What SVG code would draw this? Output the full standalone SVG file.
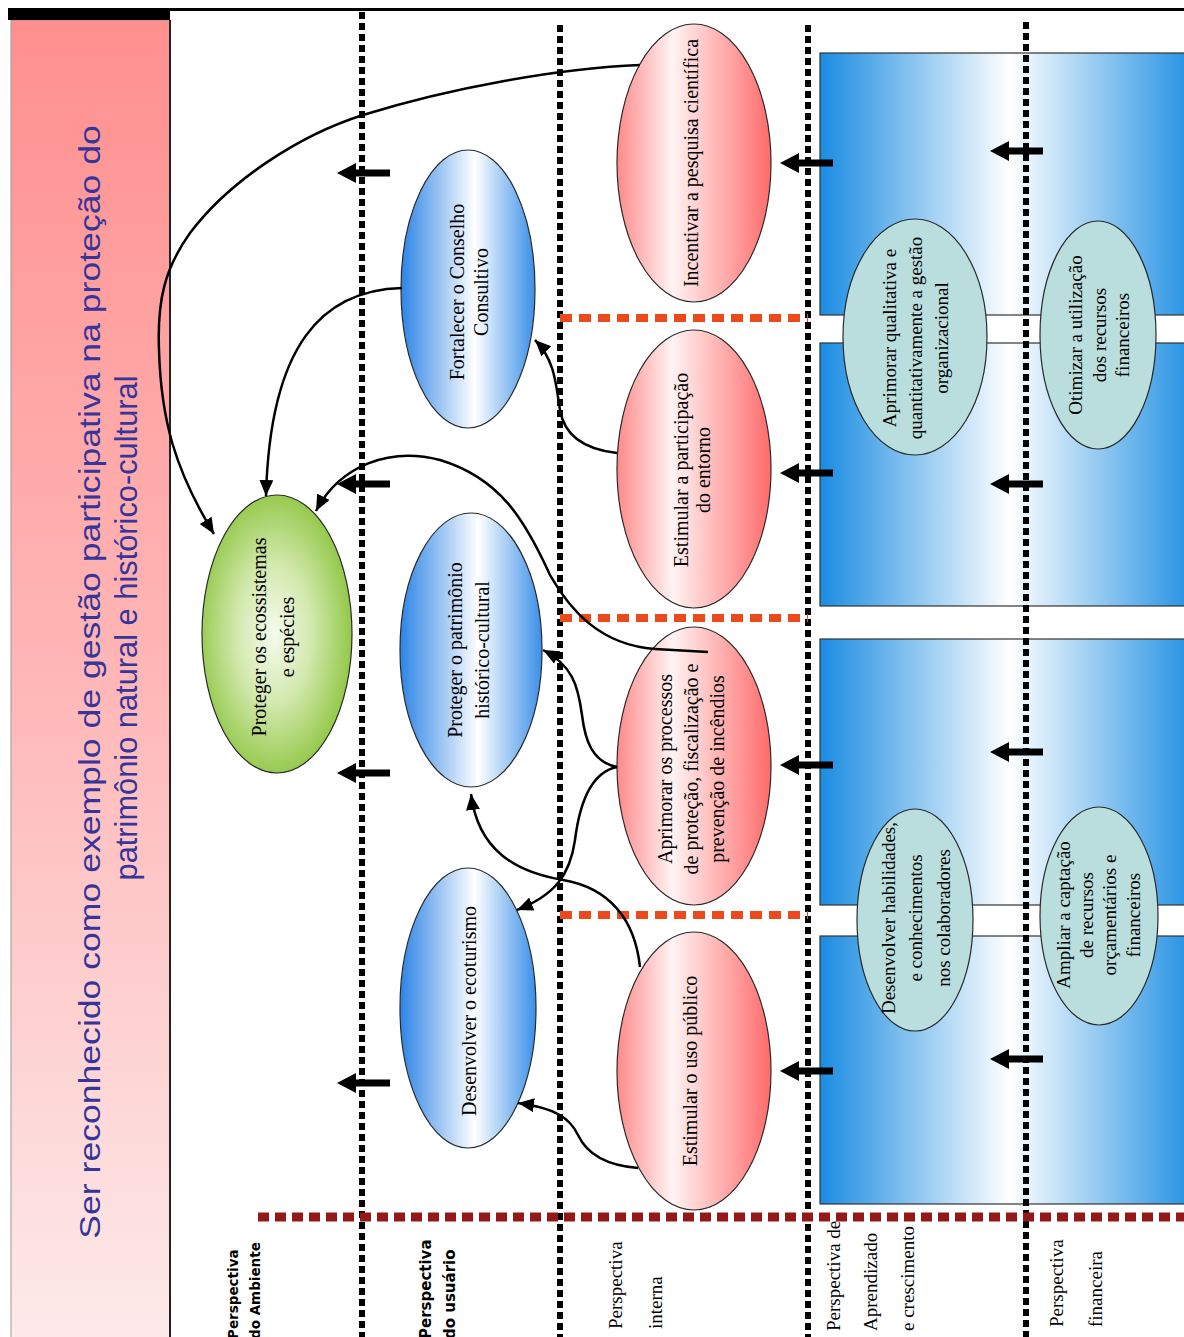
<svg xmlns="http://www.w3.org/2000/svg" width="1184" height="1337" viewBox="0 0 1184 1337">
<defs>
<linearGradient id="gPanel" x1="0" y1="0" x2="0" y2="1">
<stop offset="0" stop-color="#FF8F8F"/><stop offset="0.5" stop-color="#FFB7B7"/><stop offset="1" stop-color="#FDEAEA"/>
</linearGradient>
<linearGradient id="gPink" x1="0" y1="0" x2="1" y2="0">
<stop offset="0" stop-color="#FF8A8A"/><stop offset="0.36" stop-color="#FFF3F3"/><stop offset="1" stop-color="#FF6B6B"/>
</linearGradient>
<linearGradient id="gBlue" x1="0" y1="0" x2="1" y2="0">
<stop offset="0" stop-color="#2C84E6"/><stop offset="0.55" stop-color="#FFFFFF"/><stop offset="1" stop-color="#3A8FE8"/>
</linearGradient>
<radialGradient id="gGreen" cx="0.48" cy="0.5" r="0.55">
<stop offset="0" stop-color="#F6FBEE"/><stop offset="0.45" stop-color="#D3E9AE"/><stop offset="1" stop-color="#8CC43E"/>
</radialGradient>
<linearGradient id="gBox" x1="0" y1="0" x2="1" y2="0">
<stop offset="0" stop-color="#1A8CE2"/><stop offset="0.5" stop-color="#FFFFFF"/><stop offset="1" stop-color="#1A8CE2"/>
</linearGradient>
<marker id="ah" markerUnits="userSpaceOnUse" markerWidth="18" markerHeight="16" refX="16" refY="7" orient="auto">
<path d="M0,0 L16,7 L0,14 z" fill="#000"/>
</marker>
<path id="barrow" d="M0,0 L19,-10 L19,-3.5 L53,-3.5 L53,3.5 L19,3.5 L19,10 Z" fill="#000"/>
</defs>
<style>
.ell{stroke:#2a2a2a;stroke-width:1.2}
.teal{fill:#B9DEDD;stroke:#2a2a2a;stroke-width:1.2}
.box{fill:url(#gBox);stroke:#333;stroke-width:1.2}
.t{font-family:"Liberation Serif","Times New Roman",serif;font-size:20px;fill:#000;text-anchor:middle}
.tt{font-family:"Liberation Serif","Times New Roman",serif;font-size:19px;fill:#000;text-anchor:middle}
.div{stroke:#000;stroke-width:6;stroke-dasharray:7 4;fill:none}
.red{stroke:#EC4A1C;stroke-width:8;stroke-dasharray:12 7;fill:none}
.dred{stroke:#951818;stroke-width:9;stroke-dasharray:11 6;fill:none}
.con{stroke:#000;stroke-width:2.5;fill:none;marker-end:url(#ah)}
.lbs{font-family:"DejaVu Sans",Verdana,sans-serif;font-weight:bold;fill:#000}
.lbr{font-family:"Liberation Serif","Times New Roman",serif;font-size:19px;fill:#000}
</style>
<rect x="0" y="0" width="1184" height="1337" fill="#fff"/>

<g id="title-panel">
<rect x="11" y="20" width="159" height="1320" fill="url(#gPanel)" stroke="#999" stroke-width="1"/>
<line x1="170" y1="20" x2="170" y2="1337" stroke="#222" stroke-width="2"/>
<rect x="8" y="8" width="162" height="12" fill="#000"/>
<line x1="8" y1="9.5" x2="1184" y2="9.5" stroke="#000" stroke-width="3"/>
<g font-family="'Liberation Sans',Arial,sans-serif" fill="#35359A" text-anchor="middle">
<text font-size="35.6" transform="translate(100,682) rotate(-90) scale(1,0.85)">Ser reconhecido como exemplo de gestão participativa na proteção do</text>
<text font-size="30.5" transform="translate(137,628) rotate(-90)" textLength="505" lengthAdjust="spacingAndGlyphs">patrimônio natural e histórico-cultural</text>
</g>
</g>

<g id="boxes">
<rect class="box" x="820" y="53" width="380" height="262"/>
<rect class="box" x="820" y="343" width="380" height="263"/>
<rect class="box" x="820" y="639" width="380" height="266"/>
<rect class="box" x="820" y="936" width="380" height="268"/>
</g>

<g id="dividers">
<line class="div" x1="362" y1="12" x2="362" y2="1337"/>
<line class="div" x1="560" y1="25" x2="560" y2="1337"/>
<line class="div" x1="808" y1="25" x2="808" y2="1337"/>
<line class="div" x1="1026" y1="22" x2="1026" y2="1337"/>
<line class="red" x1="560" y1="318" x2="808" y2="318"/>
<line class="red" x1="560" y1="618" x2="808" y2="618"/>
<line class="red" x1="560" y1="915" x2="808" y2="915"/>
<line class="dred" x1="258" y1="1217" x2="1184" y2="1217"/>
</g>

<g id="labels">
<g class="lbs" font-size="13.5">
<text transform="translate(238,1339) rotate(-90)">Perspectiva</text>
<text transform="translate(260,1339) rotate(-90)">do Ambiente</text>
</g>
<g class="lbs" font-size="15">
<text transform="translate(431,1339) rotate(-90)">Perspectiva</text>
<text transform="translate(455,1339) rotate(-90)">do usuário</text>
</g>
<g class="lbr">
<text transform="translate(622,1329) rotate(-90)">Perspectiva</text>
<text transform="translate(662,1329) rotate(-90)">interna</text>
<text transform="translate(840,1331) rotate(-90)">Perspectiva de</text>
<text transform="translate(877,1331) rotate(-90)">Aprendizado</text>
<text transform="translate(914,1331) rotate(-90)">e crescimento</text>
<text transform="translate(1063,1327) rotate(-90)">Perspectiva</text>
<text transform="translate(1102,1327) rotate(-90)">financeira</text>
</g>
</g>

<g id="n-ecossistemas">
<ellipse class="ell" cx="277" cy="634" rx="75" ry="139" fill="url(#gGreen)"/>
<text class="t" transform="translate(266,637) rotate(-90)">Proteger os ecossistemas</text>
<text class="t" transform="translate(294,637) rotate(-90)">e espécies</text>
</g>
<g id="n-conselho">
<ellipse class="ell" cx="468" cy="289" rx="67" ry="139" fill="url(#gBlue)"/>
<text class="t" transform="translate(464,292) rotate(-90)">Fortalecer o Conselho</text>
<text class="t" transform="translate(488,292) rotate(-90)">Consultivo</text>
</g>
<g id="n-patrimonio">
<ellipse class="ell" cx="471" cy="650" rx="71" ry="137" fill="url(#gBlue)"/>
<text class="t" transform="translate(462,650) rotate(-90)">Proteger o patrimônio</text>
<text class="t" transform="translate(489,650) rotate(-90)">histórico-cultural</text>
</g>
<g id="n-ecoturismo">
<ellipse class="ell" cx="468" cy="1008" rx="68" ry="140" fill="url(#gBlue)"/>
<text class="t" transform="translate(476,1011) rotate(-90)">Desenvolver o ecoturismo</text>
</g>
<g id="n-pesquisa">
<ellipse class="ell" cx="694" cy="163" rx="77" ry="139" fill="url(#gPink)"/>
<text class="t" transform="translate(698,163) rotate(-90)">Incentivar a pesquisa científica</text>
</g>
<g id="n-entorno">
<ellipse class="ell" cx="694" cy="469" rx="77" ry="139" fill="url(#gPink)"/>
<text class="t" transform="translate(688,470) rotate(-90)">Estimular a participação</text>
<text class="t" transform="translate(710,470) rotate(-90)">do entorno</text>
</g>
<g id="n-processos">
<ellipse class="ell" cx="694" cy="766" rx="77" ry="139" fill="url(#gPink)"/>
<text class="t" transform="translate(672,769) rotate(-90)">Aprimorar os processos</text>
<text class="t" transform="translate(698,769) rotate(-90)">de proteção, fiscalização e</text>
<text class="t" transform="translate(724,769) rotate(-90)">prevenção de incêndios</text>
</g>
<g id="n-usopublico">
<ellipse class="ell" cx="694" cy="1071" rx="77" ry="139" fill="url(#gPink)"/>
<text class="t" transform="translate(697,1071) rotate(-90)">Estimular o uso público</text>
</g>
<g id="n-gestao">
<ellipse class="teal" cx="915" cy="337" rx="72" ry="118"/>
<text class="tt" transform="translate(896,338) rotate(-90)">Aprimorar qualitativa e</text>
<text class="tt" transform="translate(922,338) rotate(-90)">quantitativamente a gestão</text>
<text class="tt" transform="translate(948,338) rotate(-90)">organizacional</text>
</g>
<g id="n-otimizar">
<ellipse class="teal" cx="1098" cy="335" rx="58" ry="114"/>
<text class="tt" transform="translate(1082,335) rotate(-90)">Otimizar a utilização</text>
<text class="tt" transform="translate(1106,335) rotate(-90)">dos recursos</text>
<text class="tt" transform="translate(1129,335) rotate(-90)">financeiros</text>
</g>
<g id="n-habilidades">
<ellipse class="teal" cx="915" cy="920" rx="58" ry="111"/>
<text class="tt" transform="translate(895,918) rotate(-90)">Desenvolver habilidades,</text>
<text class="tt" transform="translate(922,918) rotate(-90)">e conhecimentos</text>
<text class="tt" transform="translate(950,918) rotate(-90)">nos colaboradores</text>
</g>
<g id="n-captacao">
<ellipse class="teal" cx="1099" cy="916" rx="59" ry="109"/>
<text class="tt" transform="translate(1070,915) rotate(-90)">Ampliar a captação</text>
<text class="tt" transform="translate(1093,915) rotate(-90)">de recursos</text>
<text class="tt" transform="translate(1116,915) rotate(-90)">orçamentários e</text>
<text class="tt" transform="translate(1140,915) rotate(-90)">financeiros</text>
</g>

<g id="connectors">
<path class="con" d="M 640 65 C 560 68, 450 88, 363 115 C 300 135, 230 180, 190 233 C 165 268, 157 300, 159 350 C 161 420, 175 470, 214 534"/>
<path class="con" d="M 402 288 C 322 290, 270 345, 266 496"/>
<path class="con" d="M 708 652 L 655 649 C 600 645, 570 610, 550 575 C 525 520, 500 478, 440 460 C 390 447, 340 465, 316 511"/>
<path class="con" d="M 617 767 C 592 762, 585 740, 582 715 C 578 685, 572 665, 543 650"/>
<path class="con" d="M 617 767 C 592 772, 580 800, 575 840 C 570 875, 555 895, 517 910"/>
<path class="con" d="M 617 453 C 590 450, 565 440, 560 410 C 556 385, 555 360, 535 340"/>
<path class="con" d="M 638 1168 C 600 1165, 585 1150, 578 1135 C 570 1118, 555 1108, 518 1103"/>
<path class="con" d="M 640 967 C 635 920, 610 888, 563 880 C 515 872, 478 850, 471 794"/>
</g>

<g id="flow-arrows">
<use href="#barrow" x="337" y="173"/>
<use href="#barrow" x="337" y="484"/>
<use href="#barrow" x="337" y="773"/>
<use href="#barrow" x="337" y="1083"/>
<use href="#barrow" x="780" y="163"/>
<use href="#barrow" x="780" y="473"/>
<use href="#barrow" x="780" y="765"/>
<use href="#barrow" x="780" y="1071"/>
<use href="#barrow" x="990" y="151"/>
<use href="#barrow" x="990" y="484"/>
<use href="#barrow" x="990" y="752"/>
<use href="#barrow" x="990" y="1059"/>
</g>
</svg>
